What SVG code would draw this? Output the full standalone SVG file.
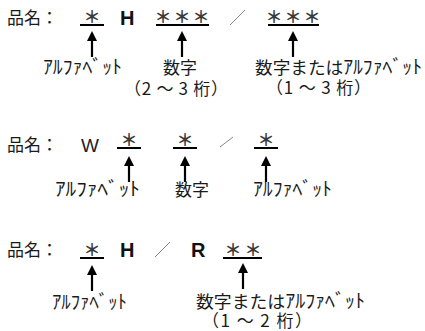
<svg xmlns="http://www.w3.org/2000/svg" width="425" height="331" viewBox="0 0 425 331">
<style>
.t{font-family:"Noto Sans CJK JP","Noto Sans",sans-serif;font-size:17px;fill:#1a1a1a}
.p{white-space:pre}
.k{font-size:19px}
.h{font-family:"Liberation Sans",Arial,sans-serif;font-size:20px;font-weight:bold;fill:#111}
.w{font-family:"Liberation Sans",Arial,sans-serif;font-size:19px;fill:#222}
.a{font-family:"Noto Sans CJK JP",sans-serif;font-size:17px;font-weight:bold;fill:#3a3a3a;text-anchor:middle}
.u{stroke:#000;stroke-width:2}
.s{stroke:#888;stroke-width:1}
.ar{stroke:#000;stroke-width:2.2;fill:none}
.hd{fill:#000}
</style>
<defs>
<g id="arr"><path class="hd" d="M0 0 L-5 10 L5 10 Z"/><line class="ar" x1="0" y1="9" x2="0" y2="26"/></g>
</defs>
<g id="row1">
<text class="t" x="7" y="24">品名：</text>
<g id="r1a"><text class="a" x="92" y="23">＊</text><line class="u" x1="80" y1="25" x2="104" y2="25"/></g>
<text class="h" x="120" y="25">H</text>
<g id="r1b"><text class="a" x="163" y="23">＊</text><text class="a" x="182" y="23">＊</text><text class="a" x="201" y="23">＊</text><line class="u" x1="156" y1="25" x2="209" y2="25"/></g>
<line class="s" x1="230" y1="25" x2="245" y2="10"/>
<g id="r1c"><text class="a" x="274" y="23">＊</text><text class="a" x="293" y="23">＊</text><text class="a" x="312" y="23">＊</text><line class="u" x1="268" y1="25" x2="319" y2="25"/></g>
<text class="t k" x="43" y="74" textLength="79" lengthAdjust="spacingAndGlyphs">ｱﾙﾌｧﾍﾞｯﾄ</text>
<text class="t" x="163" y="74">数字</text>
<text class="t p" x="124" y="95" textLength="104">（2 ～ 3 桁）</text>
<text class="t" x="255" y="74" textLength="167" lengthAdjust="spacingAndGlyphs">数字または<tspan class="k">ｱﾙﾌｧﾍﾞｯﾄ</tspan></text>
<text class="t p" x="266" y="94" textLength="105">（1 ～ 3 桁）</text>
</g>
<g id="row2">
<text class="t" x="7" y="151">品名：</text>
<text class="w" x="81" y="152">W</text>
<g id="r2a"><text class="a" x="129" y="146">＊</text><line class="u" x1="117" y1="148" x2="141" y2="148"/></g>
<g id="r2b"><text class="a" x="185" y="146">＊</text><line class="u" x1="173" y1="148" x2="197" y2="148"/></g>
<line class="s" x1="220" y1="147" x2="233" y2="137"/>
<g id="r2c"><text class="a" x="266" y="146">＊</text><line class="u" x1="254" y1="148" x2="278" y2="148"/></g>
<text class="t k" x="55" y="196" textLength="85" lengthAdjust="spacingAndGlyphs">ｱﾙﾌｧﾍﾞｯﾄ</text>
<text class="t" x="175" y="196">数字</text>
<text class="t k" x="253" y="196" textLength="79" lengthAdjust="spacingAndGlyphs">ｱﾙﾌｧﾍﾞｯﾄ</text>
</g>
<g id="row3">
<text class="t" x="7" y="256">品名：</text>
<g id="r3a"><text class="a" x="92" y="256">＊</text><line class="u" x1="80" y1="258" x2="104" y2="258"/></g>
<text class="h" x="120" y="257">H</text>
<line class="s" x1="155" y1="257" x2="170" y2="242"/>
<text class="h" x="191" y="257">R</text>
<g id="r3b"><text class="a" x="233" y="256">＊</text><text class="a" x="253" y="256">＊</text><line class="u" x1="223" y1="258" x2="262" y2="258"/></g>
<text class="t k" x="52" y="309" textLength="75" lengthAdjust="spacingAndGlyphs">ｱﾙﾌｧﾍﾞｯﾄ</text>
<text class="t" x="196" y="308" textLength="169" lengthAdjust="spacingAndGlyphs">数字または<tspan class="k">ｱﾙﾌｧﾍﾞｯﾄ</tspan></text>
<text class="t p" x="202" y="327" textLength="110">（1 ～ 2 桁）</text>
</g>
<g id="connectors">
<use href="#arr" x="92" y="31"/>
<use href="#arr" x="182" y="31"/>
<use href="#arr" x="293" y="31"/>
<use href="#arr" x="129" y="156"/>
<use href="#arr" x="185" y="156"/>
<use href="#arr" x="266" y="156"/>
<use href="#arr" x="92" y="265"/>
<use href="#arr" x="243" y="263"/>
</g>
</svg>
